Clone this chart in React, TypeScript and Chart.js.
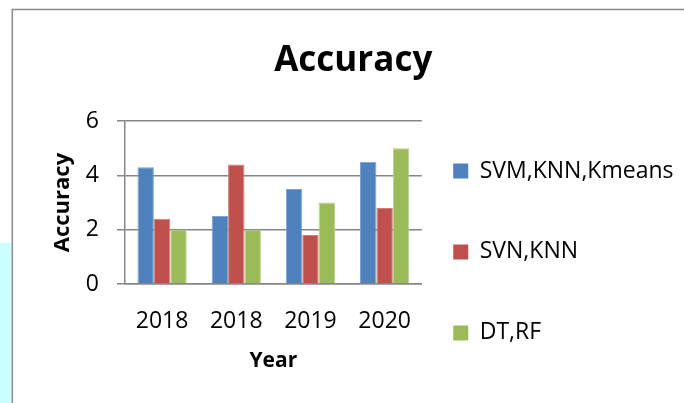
import React, { useEffect, useRef } from "react";
import { Chart, registerables } from "chart.js";

Chart.register(...registerables);

const categories = ["2018", "2018", "2019", "2020"];
const seriesNames = ["SVM,KNN,Kmeans", "SVN,KNN", "DT,RF"];
const svmKnnKmeans = [4.3, 2.5, 3.5, 4.5];
const svnKnn = [2.4, 4.4, 1.8, 2.8];
const dtRf = [2.0, 2.0, 3.0, 5.0];
const colors = ["#4F81BD", "#C0504D", "#9BBB59"];
const edgeColors = ["#7FA2D0", "#D47E7C", "#B9D189"];
const yTicks = [0, 2, 4, 6];

const FONT = "'Open Sans', sans-serif";
const GRAY = "#868686";

const framePlugin = {
  id: "frame",
  beforeDraw(chart: any) {
    const ctx = chart.ctx;
    ctx.save();
    ctx.fillStyle = "#ffffff";
    ctx.fillRect(0, 0, chart.width, chart.height);
    ctx.fillStyle = "#ccffff";
    ctx.fillRect(0, 243, 11.5, chart.height - 243);
    ctx.strokeStyle = "#8a8a8a";
    ctx.lineWidth = 1.5;
    ctx.beginPath();
    ctx.moveTo(12.3, chart.height);
    ctx.lineTo(12.3, 9.5);
    ctx.lineTo(chart.width, 9.5);
    ctx.stroke();
    ctx.restore();
  },
};

export default function App() {
  const ref = useRef<HTMLCanvasElement | null>(null);
  useEffect(() => {
    if (!ref.current) return;
    const data = [svmKnnKmeans, svnKnn, dtRf];
    const chart = new Chart(ref.current, {
      type: "bar",
      data: {
        labels: categories,
        datasets: seriesNames.map((name, i) => ({
          label: name,
          data: data[i],
          backgroundColor: colors[i],
          borderColor: edgeColors[i],
          borderWidth: 1,
          categoryPercentage: 0.664,
          barPercentage: 1.0,
        })),
      },
      options: {
        responsive: false,
        animation: false,
        layout: { padding: { left: 23, right: 0.5, top: 0, bottom: 0 } },
        font: { family: FONT },
        plugins: {
          title: {
            display: true,
            text: "Accuracy",
            color: "#000",
            font: { family: FONT, size: 35, weight: "bold", lineHeight: 1.2 },
            padding: { top: 40, bottom: 39 },
          },
          legend: {
            display: true,
            position: "right",
            align: "start",
            maxWidth: 320,
            title: {
              display: true,
              text: "",
              font: { family: FONT, size: 10, lineHeight: 1 },
              padding: { top: 118, bottom: 0 },
            },
            labels: {
              color: "#000",
              font: { family: FONT, size: 23, lineHeight: 2.15 },
              boxWidth: 15,
              boxHeight: 15,
              padding: 31.5,
              generateLabels(chart: any) {
                const base = Chart.defaults.plugins.legend.labels.generateLabels(chart);
                return base.map((l: any, i: number) => ({
                  ...l,
                  text: [l.text],
                  fillStyle: colors[i],
                  strokeStyle: colors[i],
                  lineWidth: 0,
                }));
              },
            },
          },
          tooltip: { enabled: false },
        },
        scales: {
          x: {
            grid: { display: false, drawTicks: false },
            border: { display: true, color: GRAY, width: 1.5 },
            ticks: { color: "#000", font: { family: FONT, size: 23 }, padding: 24 },
            title: {
              display: true,
              text: "Year",
              color: "#000",
              font: { family: FONT, size: 21, weight: "bold", lineHeight: 1.2 },
              padding: { top: 0, bottom: 29 },
            },
            afterFit(scale: any) {
              scale.height = 119;
            },
          },
          y: {
            min: 0,
            max: 6,
            afterBuildTicks(scale: any) {
              scale.ticks = yTicks.map((v) => ({ value: v }));
            },
            grid: { color: GRAY, lineWidth: 1.5, tickLength: 8, drawTicks: true },
            border: { display: true, color: GRAY, width: 1.5 },
            ticks: { color: "#000", font: { family: FONT, size: 23 }, padding: 18 },
            title: {
              display: true,
              text: "Accuracy",
              color: "#000",
              font: { family: FONT, size: 22, weight: "bold", lineHeight: 1.2 },
              padding: { top: 27, bottom: 0 },
            },
            afterFit(scale: any) {
              scale.width = 102;
            },
          },
        },
      },
      plugins: [framePlugin],
    } as any);
    return () => chart.destroy();
  }, []);
  return (
    <div style={{ position: "fixed", left: 0, top: 0, width: 684, height: 403 }}>
      <canvas ref={ref} width={684} height={403} style={{ width: 684, height: 403 }} />
    </div>
  );
}
